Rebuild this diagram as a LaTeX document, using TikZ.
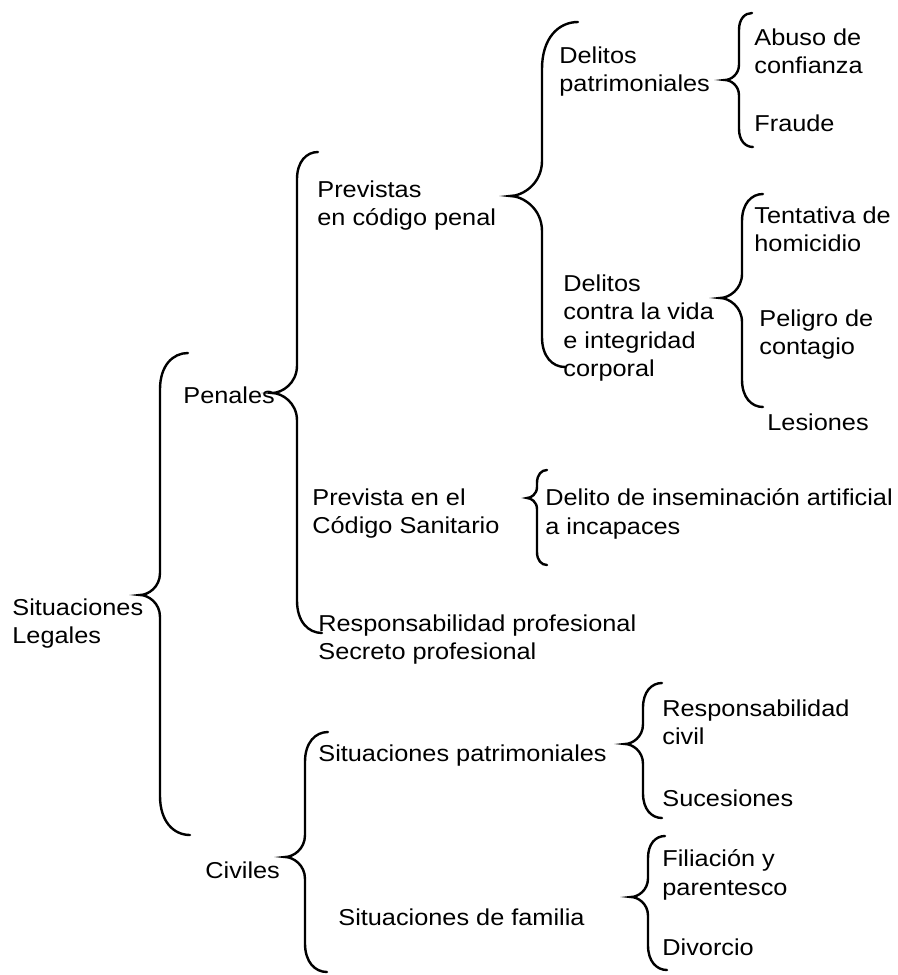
\documentclass[tikz,border=0pt]{standalone}
\usepackage{fontspec}
\setmainfont{Liberation Sans}[FakeStretch=1.1]
\usepackage{tikz}

% llave: extremo superior (x,y), x del trazo vertical, punta (x,y), extremo inferior (x,y)
\newcommand{\brc}[7]{%
  \pgfmathsetmacro\cxT{#3+0.45*(#1-#3)}%
  \pgfmathsetmacro\cxB{#3+0.45*(#6-#3)}%
  \pgfmathsetmacro\cxK{#4+0.4*(#3-#4)}%
  \pgfmathsetmacro\hTop{1.3*(#1-#3)}%
  \pgfmathsetmacro\hBot{1.3*(#6-#3)}%
  \pgfmathsetmacro\hTip{1.1*(#3-#4)}%
  \draw[brc] (#1,#2) .. controls (\cxT,#2) and (#3,#2+0.35*\hTop) .. (#3,#2+\hTop)
    -- (#3,#5-\hTip) .. controls (#3,#5-0.35*\hTip) and (\cxK,#5) .. (#4,#5)
    .. controls (\cxK,#5) and (#3,#5+0.35*\hTip) .. (#3,#5+\hTip)
    -- (#3,#7-\hBot) .. controls (#3,#7-0.35*\hBot) and (\cxB,#7) .. (#6,#7);}

\begin{document}
\begin{tikzpicture}[x=0.5pt, y=-0.5pt,
    txt/.style={anchor=north west, align=left, inner sep=0pt,
      font=\fontsize{11.5}{14.2}\selectfont},
    brc/.style={line width=1.2pt, line cap=round}]
  \useasboundingbox (0,0) rectangle (898,975);
  % Textos
  \node[txt] (sit) at (12,598.5) {Situaciones\\Legales};
  \node[txt] (pen) at (183,386.5) {Penales};
  \node[txt] (civ) at (205,861.5) {Civiles};
  \node[txt] (prev) at (317,180.5) {Previstas\\en código penal};
  \node[txt] (psan) at (312,488.5) {Prevista en el\\Código Sanitario};
  \node[txt] (resp) at (318,614) {Responsabilidad profesional\\Secreto profesional};
  \node[txt] (dpat) at (559,46.5) {Delitos\\patrimoniales};
  \node[txt] (dvida) at (563,274.5) {Delitos\\contra la vida\\e integridad\\corporal};
  \node[txt] (abu) at (754,28.5) {Abuso de\\confianza};
  \node[txt] (fra) at (754,114.5) {Fraude};
  \node[txt] (ten) at (754,206.5) {Tentativa de\\homicidio};
  \node[txt] (pel) at (759,309.5) {Peligro de\\contagio};
  \node[txt] (les) at (767,413.5) {Lesiones};
  \node[txt] (inse) at (545,488.5) {Delito de inseminación artificial\\a incapaces};
  \node[txt] (spat) at (318,744.5) {Situaciones patrimoniales};
  \node[txt] (sfam) at (338,908.5) {Situaciones de familia};
  \node[txt] (rciv) at (662,699.5) {Responsabilidad\\civil};
  \node[txt] (suc) at (662,789) {Sucesiones};
  \node[txt] (filia) at (662,849.5) {Filiación y\\parentesco};
  \node[txt] (div) at (662,938.5) {Divorcio};
  % Llaves
  \brc{188}{353}{160}{140}{595}{190}{835}
  \brc{318}{152}{297}{272}{393}{322}{633}
  \brc{578}{22}{542}{510}{196}{565}{367}
  \brc{752}{13}{739}{725}{80}{753}{147}
  \brc{763}{194}{742}{720}{298}{763}{407}
  \brc{547}{470}{537}{527}{498}{547}{565}
  \brc{328}{732}{305}{285}{857}{327}{972}
  \brc{662}{683}{643}{625}{744}{662}{818}
  \brc{665}{836}{648}{631}{897}{667}{970}
\end{tikzpicture}
\end{document}
